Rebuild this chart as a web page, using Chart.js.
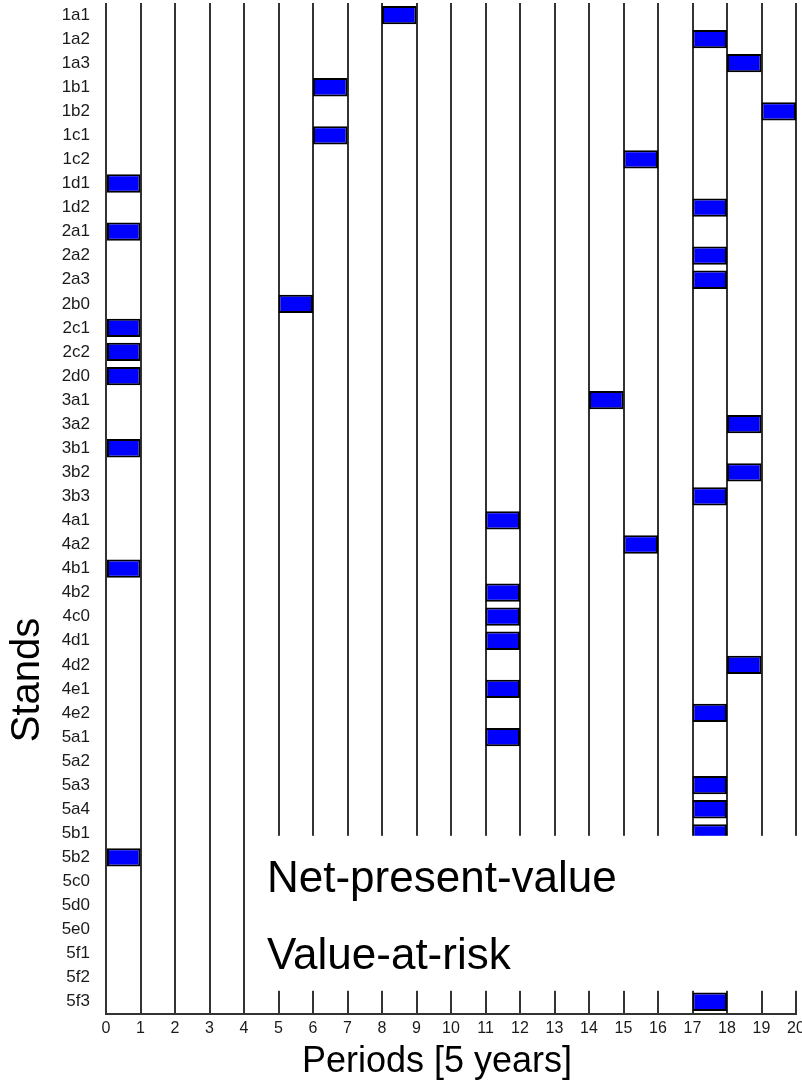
<!DOCTYPE html>
<html>
<head>
    <title>Stands by period</title>
    <script src="https://cdn.jsdelivr.net/npm/chart.js"></script>
    <style>
        body { margin: 0; overflow: hidden; background: #fff; }
    </style>
</head>
<body>
    <canvas id="standsChart" width="815" height="1081"></canvas>
</body>
<script>
    // stands on the y axis, top to bottom
    var stands = ['1a1', '1a2', '1a3', '1b1', '1b2', '1c1', '1c2', '1d1', '1d2',
        '2a1', '2a2', '2a3', '2b0', '2c1', '2c2', '2d0',
        '3a1', '3a2', '3b1', '3b2', '3b3',
        '4a1', '4a2', '4b1', '4b2', '4c0', '4d1', '4d2', '4e1', '4e2',
        '5a1', '5a2', '5a3', '5a4', '5b1', '5b2', '5c0', '5d0', '5e0', '5f1', '5f2', '5f3'];

    // period in which each stand is harvested (null = none visible)
    var harvestPeriod = [8, 17, 18, 6, 19, 6, 15, 0, 17,
        0, 17, 17, 5, 0, 0, 0,
        14, 18, 0, 18, 17,
        11, 15, 0, 11, 11, 11, 18, 11, 17,
        11, null, 17, 17, 17, 0, null, null, null, null, null, 17];

    var periodMin = 0;
    var periodMax = 20;
    var legendLabels = ['Net-present-value', 'Value-at-risk'];
    var xTitle = 'Periods [5 years]';
    var yTitle = 'Stands';

    var bars = harvestPeriod.map(function (p) {
        return p === null ? null : [p, p + 1];
    });

    var overlay = {
        id: 'overlay',
        afterDraw: function (chart) {
            var ctx = chart.ctx;
            var area = chart.chartArea;
            var x = chart.scales.x;
            ctx.save();
            // legend box over the lower part of the plot
            var boxLeft = x.getPixelForValue(4) + 1;
            var boxTop = area.bottom - 178;
            var boxBottom = area.bottom - 23;
            ctx.fillStyle = '#ffffff';
            ctx.fillRect(boxLeft, boxTop, chart.width - boxLeft, boxBottom - boxTop);
            ctx.fillStyle = '#000';
            ctx.font = '44px "Liberation Sans", Arial, sans-serif';
            ctx.textAlign = 'left';
            ctx.textBaseline = 'alphabetic';
            ctx.fillText(legendLabels[0], boxLeft + 22, boxTop + 56);
            ctx.fillText(legendLabels[1], boxLeft + 22, boxTop + 133);

            // axis titles
            ctx.font = '36px "Liberation Sans", Arial, sans-serif';
            ctx.textAlign = 'center';
            ctx.fillText(xTitle, 437, chart.height - 9);
            ctx.translate(28, 680);
            ctx.rotate(-Math.PI / 2);
            ctx.font = '40px "Liberation Sans", Arial, sans-serif';
            ctx.textBaseline = 'middle';
            ctx.fillText(yTitle, 0, 0);
            ctx.restore();
        }
    };

    var ctx = document.getElementById('standsChart').getContext('2d');
    var standsChart = new Chart(ctx, {
        type: 'bar',
        data: {
            labels: stands,
            datasets: [{
                label: 'Harvest',
                data: bars,
                backgroundColor: '#0000ff',
                borderColor: '#000000',
                borderWidth: 2,
                borderSkipped: false,
                barPercentage: 0.76,
                categoryPercentage: 1
            }]
        },
        options: {
            indexAxis: 'y',
            responsive: false,
            animation: false,
            devicePixelRatio: 1,
            layout: { padding: { top: 3, right: 19, bottom: 38, left: 0 } },
            plugins: {
                legend: { display: false },
                tooltip: { enabled: false }
            },
            scales: {
                x: {
                    type: 'linear',
                    min: periodMin,
                    max: periodMax,
                    ticks: {
                        stepSize: 1,
                        padding: 5,
                        color: '#1a1a1a',
                        font: { family: '"Liberation Sans", Arial', size: 16 }
                    },
                    grid: { color: '#333', lineWidth: 2, drawTicks: false },
                    border: { display: true, color: '#333', width: 2 }
                },
                y: {
                    type: 'category',
                    ticks: {
                        autoSkip: false,
                        padding: 16,
                        color: '#1a1a1a',
                        font: { family: '"Liberation Sans", Arial', size: 17 }
                    },
                    grid: { display: false, drawTicks: false },
                    border: { display: false },
                    afterFit: function (scale) {
                        scale.width = 106;
                        scale.paddingTop = 0;
                        scale.paddingBottom = 0;
                    }
                }
            }
        },
        plugins: [overlay]
    });
</script>
</html>
